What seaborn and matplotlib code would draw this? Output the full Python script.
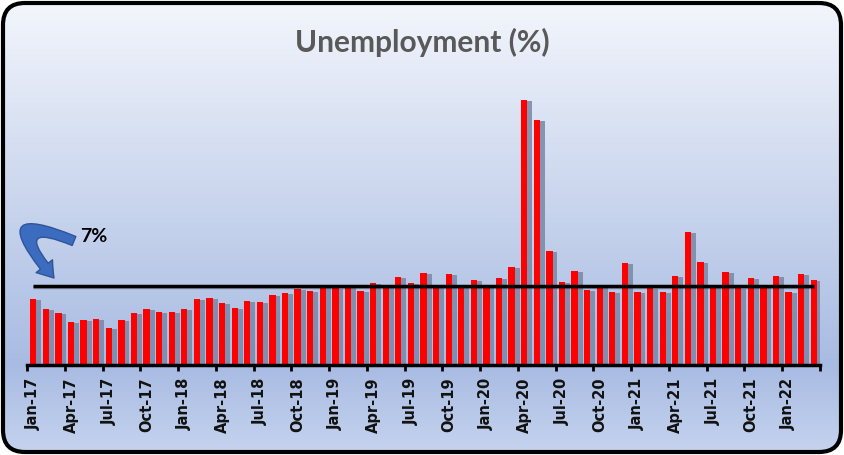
import numpy as np
import pandas as pd
import matplotlib
matplotlib.use("Agg")
import matplotlib.pyplot as plt
import matplotlib.patheffects as pe
from matplotlib.patches import FancyBboxPatch, FancyArrowPatch
from matplotlib.path import Path
from matplotlib.colors import to_rgb
import seaborn as sns

# monthly unemployment rate (%), Jan-17 .. Mar-22
months = pd.date_range("2017-01-01", "2022-03-01", freq="MS").strftime("%b-%y").tolist()
rate = [5.86, 4.97, 4.61, 3.82, 3.99, 4.08, 3.28, 3.99, 4.61, 4.97, 4.70, 4.70,
        4.97, 5.86, 5.94, 5.50, 5.06, 5.68, 5.59, 6.21, 6.39, 6.74, 6.57, 7.00,
        6.83, 7.00, 6.57, 7.28, 7.00, 7.81, 7.28, 8.16, 7.00, 8.07, 7.10, 7.54,
        7.10, 7.72, 8.70, 23.52, 21.73, 10.10, 7.36, 8.34, 6.65, 7.00, 6.48, 9.05,
        6.48, 6.83, 6.48, 7.90, 11.80, 9.14, 6.92, 8.25, 6.83, 7.72, 6.92, 7.90,
        6.48, 8.07, 7.54]
tick_labels = months[::3]
ref_level = 7
ref_text = "7%"

sns.set_theme(style="white")
plt.rcParams['font.family'] = ['DejaVu Sans']

fig = plt.figure(figsize=(8.44, 4.55), dpi=100)
fig.patch.set_facecolor("white")

# background: rounded box with vertical gradient
bg = fig.add_axes([0, 0, 1, 1], zorder=0)
bg.set_xlim(0, 844)
bg.set_ylim(455, 0)
bg.axis("off")
rows = np.arange(455)
stops_y = [0, 365, 455]
stops_c = [to_rgb("#f3f6fc"), to_rgb("#a8bbe2"), to_rgb("#c6d4ef")]
grad = np.stack([np.interp(rows, stops_y, [c[k] for c in stops_c]) for k in range(3)], axis=-1)
grad = grad[:, None, :]
im = bg.imshow(grad, extent=(0, 844, 455, 0), aspect="auto", interpolation="bilinear")
box = FancyBboxPatch((3, 3), 838, 449, boxstyle="round,pad=0,rounding_size=22",
                     fc="none", ec="black", lw=3)
bg.add_patch(box)
im.set_clip_path(box)

# curved arrow pointing at the reference line
arrow_path = Path([(74, 241), (-6, 208), (54, 278)],
                  [Path.MOVETO, Path.CURVE3, Path.CURVE3])
arrow = FancyArrowPatch(path=arrow_path,
                        arrowstyle="simple,head_length=11,head_width=15,tail_width=7",
                        fc="#3c6cc0", ec="#2f5597", lw=1)
bg.add_patch(arrow)
bg.text(94, 236, ref_text, ha="center", va="center", fontsize=14,
        fontweight="bold", family="Lato", color="black")

fig.text(0.5, 1 - 42 / 455, "Unemployment (%)", ha="center", va="center",
         fontsize=21.5, fontweight="bold", family="Lato", color="#595959")

# main chart
ax = fig.add_axes([27 / 844, 1 - 365 / 455, (820 - 27) / 844, (365 - 83) / 455], zorder=1)
ax.patch.set_visible(False)
sns.barplot(x=months, y=rate, color="red", width=0.5, saturation=1, linewidth=0, ax=ax)
for bar in ax.patches:
    bar.set_path_effects([pe.SimplePatchShadow(offset=(3.5, -1), shadow_rgbFace="#7787a6", alpha=0.85),
                          pe.Normal()])

ax.hlines(ref_level, 0, len(months) - 1, color="black", lw=2.5, zorder=5,
          path_effects=[pe.SimpleLineShadow(offset=(0, -1), alpha=0.3), pe.Normal()])

ax.set_xlim(-0.5, len(months) - 0.5)
ax.set_ylim(0, 25)
ax.set_yticks([])
ax.set_xticks(np.arange(-0.5, len(months), 3))
ax.set_xticklabels([])
ax.set_xticks(np.arange(0, len(months), 3), minor=True)
ax.set_xticklabels(tick_labels, minor=True)
ax.tick_params(axis="x", which="major", length=4, width=2, color="black", direction="out", bottom=True)
ax.tick_params(axis="x", which="minor", length=0, pad=9, labelsize=10.5, labelrotation=90,
               labelcolor="#111111")
for lab in ax.get_xticklabels(minor=True):
    lab.set_fontweight("bold")
for side in ["top", "left", "right"]:
    ax.spines[side].set_visible(False)
ax.spines["bottom"].set_color("black")
ax.spines["bottom"].set_linewidth(2.5)
ax.set_xlabel("")
ax.set_ylabel("")

fig.savefig("out.png", dpi=100)
